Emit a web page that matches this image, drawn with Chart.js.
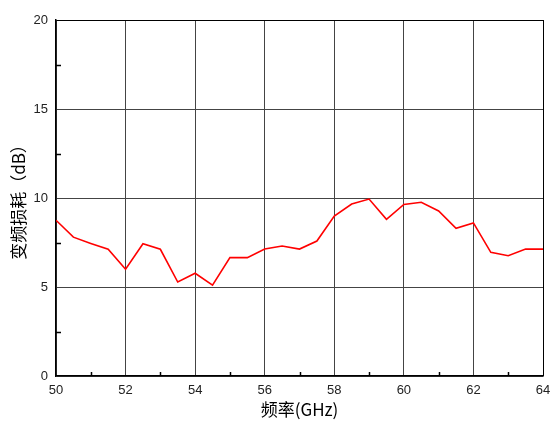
<!DOCTYPE html>
<html>
<head>
<meta charset="utf-8">
<script src="https://cdn.jsdelivr.net/npm/chart.js@4/dist/chart.umd.min.js"></script>
<style>
  html, body { margin: 0; padding: 0; background: #fff; }
  #wrap { width: 551px; height: 421px; }
</style>
</head>
<body>
<div id="wrap"><canvas id="c"></canvas></div>
<script>
// frequency (GHz) and conversion loss (dB)
var freqs = [50, 50.5, 51, 51.5, 52, 52.5, 53, 53.5, 54, 54.5, 55, 55.5, 56, 56.5, 57,
    57.5, 58, 58.5, 59, 59.5, 60, 60.5, 61, 61.5, 62, 62.5, 63, 63.5, 64];
var loss = [8.75, 7.8, 7.45, 7.12, 6.0, 7.43, 7.12, 5.28, 5.77, 5.1, 6.65, 6.65, 7.13, 7.3, 7.13,
    7.58, 8.99, 9.66, 9.94, 8.8, 9.64, 9.76, 9.27, 8.3, 8.6, 6.95, 6.76, 7.13, 7.13];
var xMinor = [51, 53, 55, 57, 59, 61, 63];
var yMinor = [2.5, 7.5, 12.5, 17.5];

var points = [];
freqs.forEach(function(f, i) {
    points.push({x: f, y: loss[i]});
});

// small inward minor ticks on the left and bottom axes
var minorTicks = {
    id: 'minorTicks',
    afterDraw: function(chart) {
        var ctx = chart.ctx, a = chart.chartArea;
        var xs = chart.scales.x, ys = chart.scales.y;
        ctx.save();
        ctx.strokeStyle = '#000';
        ctx.lineWidth = 1.5;
        ctx.beginPath();
        xMinor.forEach(function(v) {
            var px = Math.round(xs.getPixelForValue(v)) + 0.5;
            ctx.moveTo(px, a.bottom);
            ctx.lineTo(px, a.bottom - 4);
        });
        yMinor.forEach(function(v) {
            var py = Math.round(ys.getPixelForValue(v)) + 0.5;
            ctx.moveTo(a.left, py);
            ctx.lineTo(a.left + 5, py);
        });
        ctx.stroke();
        ctx.restore();
    }
};

function edgeColor(ctx) {
    var last = ctx.scale.ticks.length - 1;
    return ctx.index === last ? '#000' : '#444';
}

new Chart(document.getElementById('c'), {
    type: 'line',
    data: {
        datasets: [{
            data: points,
            borderColor: '#ff0000',
            borderWidth: 1.6,
            pointRadius: 0,
            tension: 0,
            fill: false
        }]
    },
    options: {
        responsive: true,
        maintainAspectRatio: false,
        animation: false,
        layout: {padding: {left: 0, right: 8, top: 20, bottom: 0}},
        plugins: {legend: {display: false}, tooltip: {enabled: false}},
        scales: {
            x: {
                type: 'linear',
                min: 50,
                max: 64,
                ticks: {stepSize: 2, padding: 7, color: '#222', maxRotation: 0,
                    font: {family: 'Liberation Sans, Arial, sans-serif', size: 13}},
                grid: {color: edgeColor, lineWidth: 1, drawTicks: false},
                border: {color: '#000', width: 1.5},
                title: {display: true, text: '频率(GHz)', color: '#000',
                    font: {family: 'Noto Sans CJK SC, sans-serif', size: 17},
                    padding: {top: 0, bottom: 1}},
                afterFit: function(s) {
                    s.height = 45;
                    s.paddingLeft = 0;
                    s.paddingRight = 0;
                }
            },
            y: {
                min: 0,
                max: 20,
                ticks: {stepSize: 5, padding: 8, color: '#222',
                    font: {family: 'Liberation Sans, Arial, sans-serif', size: 13}},
                grid: {color: edgeColor, lineWidth: 1, drawTicks: false},
                border: {color: '#000', width: 1.5},
                title: {display: true, text: '变频损耗（dB）', color: '#000',
                    font: {family: 'Noto Sans CJK SC, sans-serif', size: 17},
                    padding: {top: 8, bottom: 0}},
                afterFit: function(s) {
                    s.width = 56;
                    s.paddingTop = 0;
                    s.paddingBottom = 0;
                }
            }
        }
    },
    plugins: [minorTicks]
});
</script>
</body>
</html>
